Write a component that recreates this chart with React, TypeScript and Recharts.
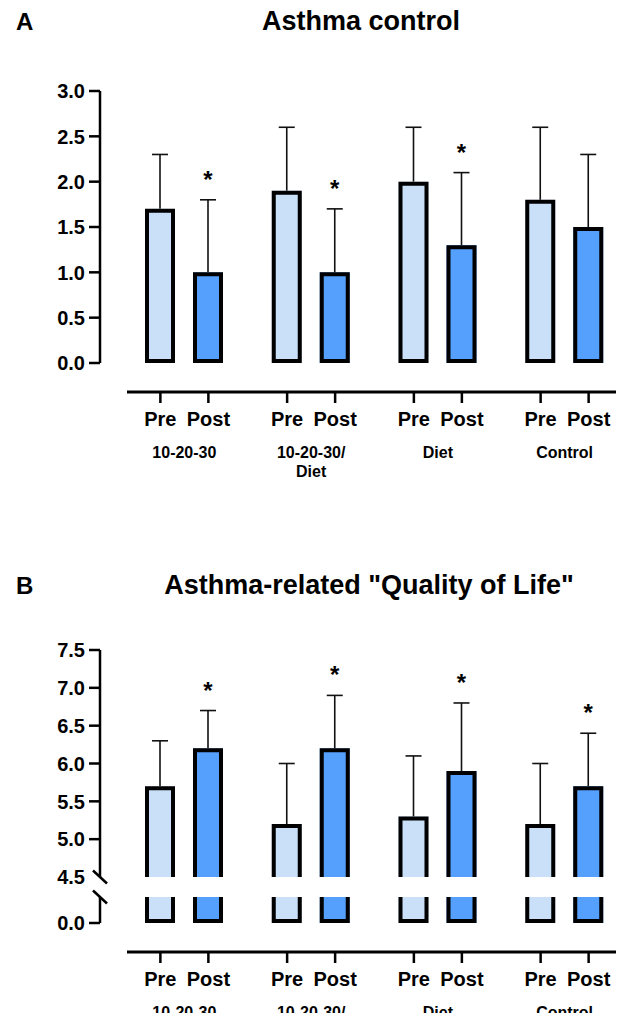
import React from 'react';
import { BarChart, Bar, XAxis, YAxis, LabelList } from 'recharts';

// categories
const groups = ['10-20-30', '10-20-30/\nDiet', 'Diet', 'Control'];
const phases = ['Pre', 'Post'];

// A: asthma control (mean, SD)
const controlPre = [1.7, 1.9, 2.0, 1.8];
const controlPreSd = [0.6, 0.7, 0.6, 0.8];
const controlPost = [1.0, 1.0, 1.3, 1.5];
const controlPostSd = [0.8, 0.7, 0.8, 0.8];
const controlSig = ['*', '*', '*', ''];
const controlTicks = [0, 0.5, 1, 1.5, 2, 2.5, 3];

// B: asthma-related quality of life (mean, SD)
const qolPre = [5.7, 5.2, 5.3, 5.2];
const qolPreSd = [0.6, 0.8, 0.8, 0.8];
const qolPost = [6.2, 6.2, 5.9, 5.7];
const qolPostSd = [0.5, 0.7, 0.9, 0.7];
const qolSig = ['*', '*', '*', '*'];
const qolTopTicks = [4.5, 5, 5.5, 6, 6.5, 7, 7.5];
const qolBottomTicks = [0, 1];

const FONT = '"Liberation Sans", Arial, Helvetica, sans-serif';
const PRE_FILL = '#CADFF8';
const POST_FILL = '#55A0FD';
const BAR_SIZE = 30;
const BAR_GAP = 18;
const HALF_STEP = (BAR_SIZE + BAR_GAP) / 2;
const X_PAD = { left: -6, right: -8 };
const axisLine = { stroke: '#000', strokeWidth: 2.5 };

const makeRows = (pre: number[], preSd: number[], post: number[], postSd: number[], sig: string[]) =>
  groups.map((group, i) => ({ group, pre: pre[i], preSd: preSd[i], post: post[i], postSd: postSd[i], sig: sig[i] }));

const controlRows = makeRows(controlPre, controlPreSd, controlPost, controlPostSd, controlSig);
const qolRows = makeRows(qolPre, qolPreSd, qolPost, qolPostSd, qolSig);

type Edge = 'closed' | 'openBottom' | 'openTop';

// bar with the thick black border drawn inside the rect; broken-axis parts leave one end open
const boxShape = (fill: string, edge: Edge) => (p: any) => {
  const { x, y, width, height } = p;
  if (width == null || height == null) return null;
  const l = x + 2;
  const r = x + width - 2;
  const t = y + 2;
  const b = y + height - 2;
  const d =
    edge === 'closed'
      ? `M${l},${b}V${t}H${r}V${b}Z`
      : edge === 'openBottom'
        ? `M${l},${b + 2}V${t}H${r}V${b + 2}`
        : `M${l},${t - 2}V${b}H${r}V${t - 2}`;
  return (
    <g>
      <rect x={x} y={y} width={width} height={height} fill={fill} />
      <path d={d} fill="none" stroke="#000" strokeWidth={4} />
    </g>
  );
};

// the SD part of each stack is drawn as an upward whisker
const whisker = (p: any) => {
  const { x, y, width, height } = p;
  const cx = x + width / 2;
  return (
    <g stroke="#111" strokeWidth={1.6}>
      <line x1={cx} y1={y} x2={cx} y2={y + height} />
      <line x1={cx - 8} y1={y} x2={cx + 8} y2={y} />
    </g>
  );
};

const starLabel = (p: any) => {
  if (!p.value) return null;
  const box = p.viewBox ?? p;
  return (
    <text x={box.x + box.width / 2} y={box.y - 12} textAnchor="middle" fontFamily={FONT} fontSize={24} fontWeight={700} fill="#000">
      {p.value}
    </text>
  );
};

const YTick = (p: any) => {
  const { x, y, payload, breakAt, showBreakLabel } = p;
  const v = Number(payload.value);
  const label = (
    <text x={x - 15} y={y} dy="0.36em" textAnchor="end" fontFamily={FONT} fontSize={20} fontWeight={700} fill="#000">
      {v.toFixed(1)}
    </text>
  );
  if (v === breakAt) {
    return (
      <g>
        <line x1={x - 7} y1={y - 6.5} x2={x + 7} y2={y + 6.5} stroke="#000" strokeWidth={2.5} />
        {showBreakLabel && label}
      </g>
    );
  }
  return (
    <g>
      <line x1={x - 11} y1={y} x2={x} y2={y} stroke="#000" strokeWidth={2.5} />
      {label}
    </g>
  );
};

const XTick = (p: any) => {
  const { x, y, payload, maxLines } = p;
  const lines = String(payload.value).split('\n').slice(0, maxLines ?? 2);
  return (
    <g fontFamily={FONT} fontWeight={700} fill="#000">
      {phases.map((ph, i) => {
        const px = x + (i === 0 ? -HALF_STEP : HALF_STEP);
        return (
          <g key={ph}>
            <line x1={px} y1={y} x2={px} y2={y + 11} stroke="#000" strokeWidth={2.5} />
            <text x={px} y={y + 34} textAnchor="middle" fontSize={20}>
              {ph}
            </text>
          </g>
        );
      })}
      {lines.map((l, i) => (
        <text key={l} x={x} y={y + 66 + i * 19} textAnchor="middle" fontSize={16}>
          {l}
        </text>
      ))}
    </g>
  );
};

const gapYAxis = <YAxis yAxisId="gap" width={27} axisLine={false} tickLine={false} tick={false} />;

const bottomAxes = (height: number, maxLines: number) => [
  <XAxis key="gap" xAxisId="gap" dataKey="group" height={29} axisLine={false} tickLine={false} tick={false} padding={X_PAD} />,
  <XAxis
    key="v"
    xAxisId="v"
    dataKey="group"
    height={height}
    axisLine={{ stroke: '#000', strokeWidth: 3 }}
    tickLine={false}
    tickSize={0}
    tickMargin={0}
    interval={0}
    tick={(p: any) => <XTick {...p} maxLines={maxLines} />}
    padding={X_PAD}
  />,
];

const titleStyle: React.CSSProperties = {
  position: 'absolute',
  fontSize: 27,
  fontWeight: 700,
  lineHeight: 1,
  textAlign: 'center',
  whiteSpace: 'nowrap',
};

const letterStyle: React.CSSProperties = {
  position: 'absolute',
  left: 16,
  fontSize: 24,
  fontWeight: 700,
  lineHeight: 1,
};

export default function App() {
  return (
    <div style={{ position: 'relative', width: 624, height: 1021, margin: -8, background: '#fff', fontFamily: FONT, overflow: 'hidden' }}>
      <div style={{ ...letterStyle, top: 10 }}>A</div>
      <div style={{ ...titleStyle, top: 8, left: 211, width: 300 }}>Asthma control</div>

      <div style={{ position: 'absolute', left: 0, top: 70 }}>
        <BarChart width={624} height={420} data={controlRows} margin={{ top: 21, right: 4, bottom: 8, left: 40 }} barSize={BAR_SIZE} barGap={BAR_GAP}>
          {bottomAxes(90, 2)}
          {gapYAxis}
          <YAxis
            yAxisId="v"
            width={60}
            domain={[0, 3]}
            ticks={controlTicks}
            allowDataOverflow
            interval={0}
            axisLine={axisLine}
            tickLine={false}
            tickSize={0}
            tickMargin={0}
            tick={(p: any) => <YTick {...p} />}
          />
          <Bar xAxisId="v" yAxisId="v" dataKey="pre" stackId="pre" isAnimationActive={false} shape={boxShape(PRE_FILL, 'closed')} />
          <Bar xAxisId="v" yAxisId="v" dataKey="preSd" stackId="pre" isAnimationActive={false} shape={whisker} />
          <Bar xAxisId="v" yAxisId="v" dataKey="post" stackId="post" isAnimationActive={false} shape={boxShape(POST_FILL, 'closed')} />
          <Bar xAxisId="v" yAxisId="v" dataKey="postSd" stackId="post" isAnimationActive={false} shape={whisker}>
            <LabelList dataKey="sig" content={starLabel} />
          </Bar>
        </BarChart>
      </div>

      <div style={{ ...letterStyle, top: 574 }}>B</div>
      <div style={{ ...titleStyle, top: 572, left: 119, width: 500 }}>Asthma-related "Quality of Life"</div>

      <div style={{ position: 'absolute', left: 0, top: 630 }}>
        <BarChart width={624} height={257} data={qolRows} margin={{ top: 20, right: 4, bottom: 10, left: 40 }} barSize={BAR_SIZE} barGap={BAR_GAP}>
          <XAxis xAxisId="v" dataKey="group" hide padding={X_PAD} />
          {gapYAxis}
          <YAxis
            yAxisId="v"
            width={60}
            domain={[4.5, 7.5]}
            ticks={qolTopTicks}
            allowDataOverflow
            interval={0}
            axisLine={axisLine}
            tickLine={false}
            tickSize={0}
            tickMargin={0}
            tick={(p: any) => <YTick {...p} breakAt={4.5} showBreakLabel />}
          />
          <Bar xAxisId="v" yAxisId="v" dataKey="pre" stackId="pre" isAnimationActive={false} shape={boxShape(PRE_FILL, 'openBottom')} />
          <Bar xAxisId="v" yAxisId="v" dataKey="preSd" stackId="pre" isAnimationActive={false} shape={whisker} />
          <Bar xAxisId="v" yAxisId="v" dataKey="post" stackId="post" isAnimationActive={false} shape={boxShape(POST_FILL, 'openBottom')} />
          <Bar xAxisId="v" yAxisId="v" dataKey="postSd" stackId="post" isAnimationActive={false} shape={whisker}>
            <LabelList dataKey="sig" content={starLabel} />
          </Bar>
        </BarChart>
      </div>

      <div style={{ position: 'absolute', left: 0, top: 887 }}>
        <BarChart width={624} height={134} data={qolRows} margin={{ top: 10, right: 4, bottom: 0, left: 40 }} barSize={BAR_SIZE} barGap={BAR_GAP}>
          {bottomAxes(69, 1)}
          {gapYAxis}
          <YAxis
            yAxisId="v"
            width={60}
            domain={[0, 1]}
            ticks={qolBottomTicks}
            allowDataOverflow
            interval={0}
            axisLine={axisLine}
            tickLine={false}
            tickSize={0}
            tickMargin={0}
            tick={(p: any) => <YTick {...p} breakAt={1} showBreakLabel={false} />}
          />
          <Bar xAxisId="v" yAxisId="v" dataKey="pre" isAnimationActive={false} shape={boxShape(PRE_FILL, 'openTop')} />
          <Bar xAxisId="v" yAxisId="v" dataKey="post" isAnimationActive={false} shape={boxShape(POST_FILL, 'openTop')} />
        </BarChart>
      </div>
    </div>
  );
}
